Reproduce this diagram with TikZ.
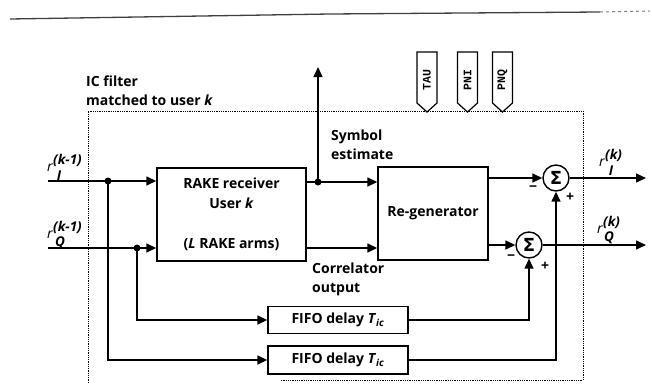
\documentclass[tikz,border=0pt]{standalone}
\usepackage{fontspec}
\setmainfont{Open Sans}
\newfontfamily\tagfont{Liberation Mono}
\newfontfamily\sigfont{DejaVu Sans}
\usetikzlibrary{arrows.meta,calc}
\tikzset{
  lbl/.style={font=\fontsize{14}{19}\selectfont\bfseries, inner sep=0pt},
  blk/.style={draw, line width=1.4pt, font=\fontsize{14}{20}\selectfont\bfseries, align=center, inner sep=0pt},
  sumnode/.style={draw, circle, line width=1.4pt, minimum size=26pt, inner sep=0pt, font=\sigfont\bfseries\fontsize{18}{18}\selectfont},
  wire/.style={line width=1.5pt},
  arr/.style={line width=1.5pt, -{Triangle[length=10pt,width=9pt]}},
  dotbox/.style={line width=1pt, dash pattern=on 0.9pt off 0.9pt},
  jdot/.style={circle, fill, inner sep=0pt, minimum size=7pt},
  tagbox/.style={draw, line width=1.2pt},
  sgn/.style={font=\fontsize{14}{14}\selectfont\bfseries, inner sep=0pt},
  tagtxt/.style={font=\tagfont\bfseries\fontsize{11.5}{11.5}\selectfont, rotate=90, inner sep=0pt},
  rr/.style={font=\fontsize{14}{14}\selectfont\itshape, inner sep=0pt},
  rs/.style={font=\fontsize{13.5}{13.5}\selectfont\bfseries\itshape, inner sep=0pt}
}
\begin{document}
\begin{tikzpicture}[x=1pt,y=-1pt]
\useasboundingbox (0,0) rectangle (652,383);
% top rule of the page
\draw[line width=1.3pt, black!75] (10,19) -- (330,14) -- (600,12);
\draw[line width=1pt, black!50, dashed] (600,12) -- (650,11);

% dotted outline of the IC filter
\draw[dotbox] (88,383) -- (88,111) -- (583,111) -- (583,380) -- (280,380);
\node[lbl, anchor=west, align=left] (title) at (86,91) {IC filter\\matched to user \textit{k}};

% blocks
\node[blk, minimum width=149pt, minimum height=93pt] (rake) at (231.5,214.5)
  {RAKE receiver\\User \textit{k}\\[20pt](\textit{L} RAKE arms)};
\node[blk, minimum width=110pt, minimum height=93pt] (regen) at (433,213.5) {Re-generator};
\node[blk, minimum width=140pt, minimum height=27pt] (fifo1) at (338,320) {FIFO delay \textit{T}\textsubscript{\textit{ic}}};
\node[blk, minimum width=140pt, minimum height=28pt] (fifo2) at (338,360) {FIFO delay \textit{T}\textsubscript{\textit{ic}}};
\node[sumnode] (s1) at (556,178) {Σ};
\node[sumnode] (s2) at (529,245) {Σ};

% tags
\foreach \cx/\tg/\nm in {427/TAU/tau, 467.5/PNI/pni, 502.5/PNQ/pnq}{
  \draw[tagbox] (\cx-10,52) -- (\cx+10,52) -- (\cx+10,103) -- (\cx,112) -- (\cx-10,103) -- cycle;
  \node[tagtxt] (\nm) at (\cx,80) {\tg};
}

% coordinates
\coordinate (inI) at (48,181);
\coordinate (inQ) at (48,248);
\coordinate (dotI) at (108,181);
\coordinate (dotQ) at (137,248);
\coordinate (sym) at (318,182);
\coordinate (up) at (318,67);
\coordinate (qline) at (0,248);
\coordinate (outI) at (646,178);
\coordinate (outQ) at (646,245);

% inputs
\draw[arr] (inI) -- (inI -| rake.west);
\draw[arr] (inQ) -- (inQ -| rake.west);
\node[jdot] (jI) at (dotI) {};
\node[jdot] (jQ) at (dotQ) {};
\draw[arr] (jI.center) |- (fifo2.west);
\draw[arr] (jQ.center) |- (fifo1.west);

% rake -> regen
\draw[wire] (rake.east |- sym) -- (sym);
\node[jdot] (jS) at (sym) {};
\draw[arr] (jS.center) -- (sym -| regen.west);
\draw[arr] (jS.center) -- (up);
\draw[arr] (rake.east |- qline) -- (regen.west |- qline);

% regen -> sums
\draw[arr] (regen.east |- s1) -- (s1);
\draw[arr] (regen.east |- s2) -- (s2);
\draw[arr] (fifo1.east) -| (s2);
\draw[arr] (fifo2.east) -| (s1);
\draw[arr] (s1) -- (outI);
\draw[arr] (s2) -- (outQ);

% signs
\node[sgn] (m1) at (533,189) {\textminus};
\node[sgn] (p1) at (570,197) {+};
\node[sgn] (m2) at (511,258) {\textminus};
\node[sgn] (p2) at (545,266) {+};

% text labels
\node[lbl, anchor=west, align=left] (symest) at (331,145) {Symbol\\estimate};
\node[lbl, anchor=west, align=left] (corr) at (312,279) {Correlator\\output};

% signal names
\node[rr] (r1) at (50,168) {r};
\node[rs, anchor=west] (r1s) at (53,160) {(k-1)};
\node[rs] (r1b) at (59,176) {I};
\node[rr] (r2) at (50,235) {r};
\node[rs, anchor=west] (r2s) at (53,227) {(k-1)};
\node[rs] (r2b) at (60,243) {Q};
\node[rr] (r3) at (602,163) {r};
\node[rs, anchor=west] (r3s) at (605,155) {(k)};
\node[rs] (r3b) at (611,171) {I};
\node[rr] (r4) at (600,230) {r};
\node[rs, anchor=west] (r4s) at (603,222) {(k)};
\node[rs] (r4b) at (609,238) {Q};
\end{tikzpicture}
\end{document}
